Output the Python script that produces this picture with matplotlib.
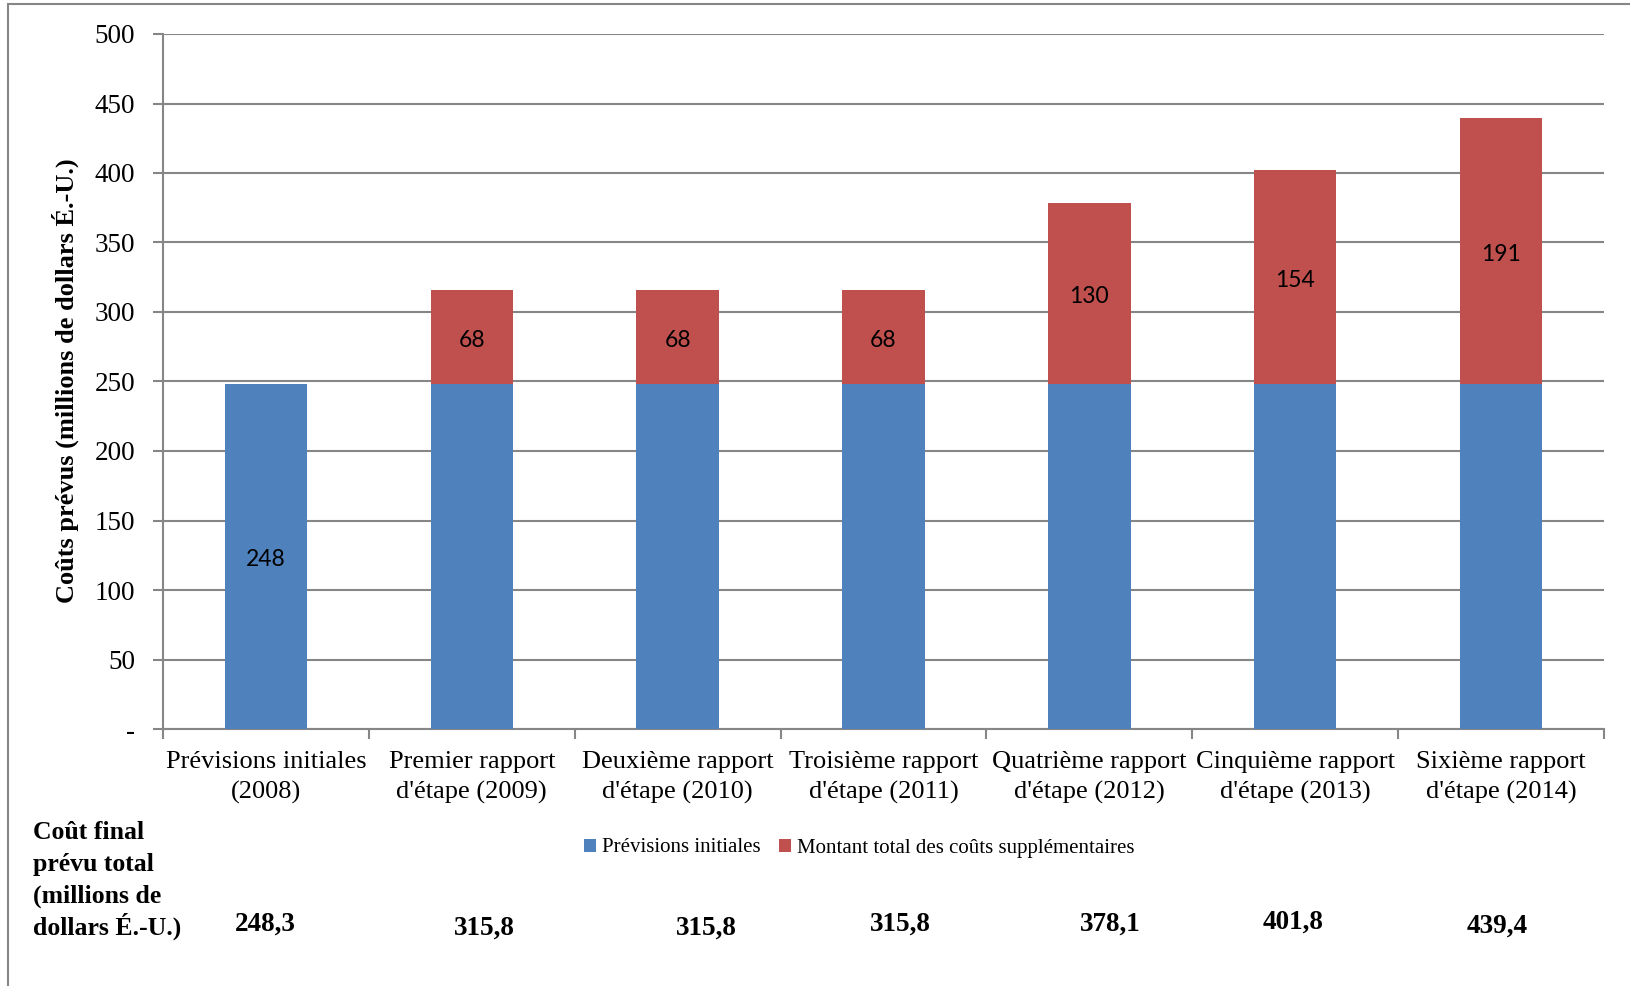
import matplotlib
matplotlib.use("Agg")
import matplotlib.pyplot as plt
from matplotlib.patches import Rectangle
import numpy as np

categories = ["Prévisions initiales\n(2008)", "Premier rapport\nd'étape (2009)",
              "Deuxième rapport\nd'étape (2010)", "Troisième rapport\nd'étape (2011)",
              "Quatrième rapport\nd'étape (2012)", "Cinquième rapport\nd'étape (2013)",
              "Sixième rapport\nd'étape (2014)"]
initial = [248.3, 248.3, 248.3, 248.3, 248.3, 248.3, 248.3]
extra = [0, 67.5, 67.5, 67.5, 129.8, 153.5, 191.1]
initial_labels = ["248", "", "", "", "", "", ""]
extra_labels = ["", "68", "68", "68", "130", "154", "191"]
totals = ["248,3", "315,8", "315,8", "315,8", "378,1", "401,8", "439,4"]
yticks = [0, 50, 100, 150, 200, 250, 300, 350, 400, 450, 500]
ytick_labels = ["-", "50", "100", "150", "200", "250", "300", "350", "400", "450", "500"]
series_names = ["Prévisions initiales", "Montant total des coûts supplémentaires"]
side_title = ["Coût final", "prévu total", "(millions de", "dollars É.-U.)"]

# layout-only tweaks (pixel offsets of the total boxes)
total_dx = [-1, 13, 29, 17, 21, -2, -4]
total_dy = [0, 4, 4, 0, 0, -2, 2]

BLUE = "#4F81BD"
RED = "#C0504D"
GRID = "#868686"
SERIF = "Liberation Serif"
SANS = "Lato"

W, H = 1631, 986
fig = plt.figure(figsize=(W / 100, H / 100), dpi=100)
ax = fig.add_axes([163 / W, 1 - 729 / H, (1604 - 163) / W, (729 - 34) / H])

x = np.arange(len(categories))
b1 = ax.bar(x, initial, width=0.4, color=BLUE, zorder=3, label=series_names[0])
b2 = ax.bar(x, extra, width=0.4, bottom=initial, color=RED, zorder=3, label=series_names[1])

for i in range(len(x)):
    if initial_labels[i]:
        ax.annotate(initial_labels[i], (x[i], initial[i] / 2), xytext=(0, -2.2),
                    textcoords="offset points", ha="center", va="center",
                    fontsize=16.5, family=SANS, color="black", zorder=4)
    if extra_labels[i]:
        ax.annotate(extra_labels[i], (x[i], initial[i] + extra[i] / 2), xytext=(0, -2.2),
                    textcoords="offset points", ha="center", va="center",
                    fontsize=16.5, family=SANS, color="black", zorder=4)

ax.set_xlim(-0.5, len(categories) - 0.5)
ax.set_ylim(0, 500)
ax.set_yticks(yticks)
ax.set_yticklabels(ytick_labels, family=SERIF, fontsize=19.5)
ax.yaxis.grid(True, color=GRID, linewidth=1.5, zorder=0)
ax.tick_params(axis="y", length=7, width=1.5, color=GRID, pad=13)

ax.set_xticks(x)
ax.set_xticklabels(categories, family=SERIF, fontsize=19, linespacing=1.45)
ax.set_xticks(np.arange(-0.5, len(categories)), minor=True)
ax.tick_params(axis="x", which="major", length=0, pad=16)
ax.tick_params(axis="x", which="minor", length=7, width=1.5, color=GRID)

for s in ["top", "right"]:
    ax.spines[s].set_visible(False)
for s in ["left", "bottom"]:
    ax.spines[s].set_color(GRID)
    ax.spines[s].set_linewidth(1.5)

fig.text(65 / W, 1 - 381 / H, "Coûts prévus (millions de dollars É.-U.)", rotation=90,
         ha="center", va="center", family=SERIF, fontweight="bold", fontsize=19)

leg = fig.legend(handles=[b1, b2], labels=series_names, loc="center",
                 bbox_to_anchor=(859 / W, 1 - 848 / H), ncol=2, frameon=False,
                 prop={"family": SERIF, "size": 15}, handlelength=0.6, handleheight=0.6,
                 handletextpad=0.25, columnspacing=0.9)

for k, line in enumerate(side_title):
    fig.text(33 / W, 1 - (839 + 32 * k) / H, line, ha="left", va="baseline",
             family=SERIF, fontweight="bold", fontsize=18.5)

for i, t in enumerate(totals):
    cx = ax.transData.transform((x[i], 0))[0]
    fig.text((cx + total_dx[i]) / W, 1 - (924 + total_dy[i]) / H, t, ha="center", va="center",
             family=SERIF, fontweight="bold", fontsize=19.5)

fig.patches.append(Rectangle((8 / W, -0.05), 1.2, 1 - 4 / H + 0.05, transform=fig.transFigure,
                             fill=False, edgecolor=GRID, linewidth=1.5))

fig.savefig("out.png", dpi=100)
